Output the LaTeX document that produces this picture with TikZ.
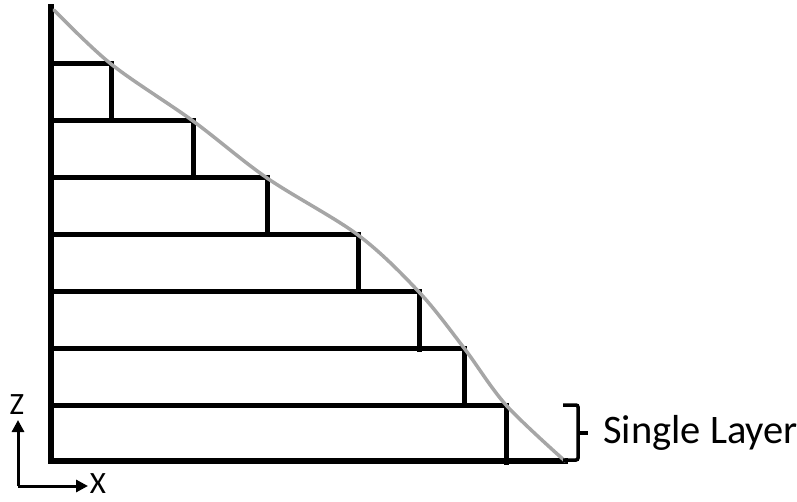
\documentclass[tikz,border=0pt]{standalone}
\usepackage{fontspec}
\setmainfont{Carlito}
\usetikzlibrary{arrows.meta}
\definecolor{ProfileGray}{HTML}{A6A6A6}

\begin{document}
\begin{tikzpicture}[x=1pt, y=-1pt,
  wall/.style={draw=black, line width=5pt, line cap=rect},
  profile/.style={draw=ProfileGray, line width=3.5pt, line cap=round},
  axis/.style={draw=black, line width=3pt, -{Triangle[length=12pt,width=12pt]}},
  lbl/.style={font=\fontsize{31}{33}\selectfont, inner sep=0pt}]
  \useasboundingbox (0,0) rectangle (797,502);
  % layers: top of layer, right edge of layer
  \foreach \ytop/\xr in {64/111, 121/193, 178/267, 235/358, 292/419, 348/464, 405/506}{
    \draw[wall] (51,\ytop) -- (\xr,\ytop) -- (\xr,\ytop+57);
  }
  \draw[wall, line width=5.5pt] (51,7) -- (51,461) -- (565,461);
  % fitted profile
  \draw[profile] plot[smooth, tension=0.55] coordinates
    {(54,10) (111,64) (193,121) (267,178) (358,235) (419,292) (464,348) (506,405) (565,461)};
  % brace and label
  \draw[line width=3.5pt, rounded corners=2pt] (563,405) -- (578,405) -- (578,460) -- (563,460);
  \draw[line width=3.5pt] (578,433) -- (588,433);
  \node[anchor=west, inner sep=0pt, font=\fontsize{40.5}{44}\selectfont] (layer) at (603,433) {Single Layer};
  % axes
  \coordinate (origin) at (18,486);
  \draw[axis] (origin) -- (18,420);
  \draw[axis] (origin) -- ([xshift=70pt]origin);
  \node[lbl] (zlbl) at (17,405) {Z};
  \node[lbl] (xlbl) at (98,484) {X};
\end{tikzpicture}
\end{document}
